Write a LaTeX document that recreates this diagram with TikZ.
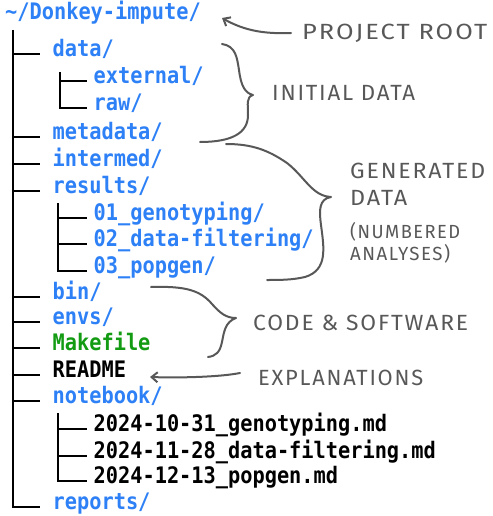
\documentclass[tikz,border=0pt]{standalone}
\usepackage{fontspec}
\usepackage{graphicx}
\usetikzlibrary{arrows.meta}
\newfontfamily\treefont{DejaVu Sans Mono}
\newfontfamily\handfont[LetterSpace=8]{Fira Sans}
\newcommand\tx[1]{\scalebox{1}[1.12]{#1}}
\newcommand\fitw[2]{\resizebox{#1}{\height}{#2}}
\definecolor{dirblue}{RGB}{45,128,245}
\definecolor{filegreen}{RGB}{20,155,20}
\definecolor{notegray}{RGB}{88,88,88}
\begin{document}
\begin{tikzpicture}[x=1pt,y=-1pt,
  entry/.style={anchor=mid west,inner sep=0pt,font=\treefont\bfseries\fontsize{20.3}{24}\selectfont},
  dir/.style={entry,text=dirblue},
  file/.style={entry,text=black},
  mk/.style={entry,text=filegreen},
  tree/.style={line width=2.5pt,draw=black,line cap=butt,line join=miter},
  note/.style={anchor=base west,inner sep=0pt,text=notegray,font=\handfont\fontsize{22}{24}\selectfont},
  smallnote/.style={note,font=\handfont\fontsize{19}{22}\selectfont},
  hand/.style={draw=notegray,line width=2pt,line cap=round,line join=round},
  handarrow/.style={hand,-{Straight Barb[length=6pt,width=10pt]}}
]
\useasboundingbox (0,0) rectangle (492,516);

% tree entries
\node[dir] (root) at (5,17.5) {\tx{\textasciitilde/Donkey-impute/}};
\node[dir] (data) at (52.5,54) {\tx{data/}};
\node[dir] (external) at (93.5,81) {\tx{external/}};
\node[dir] (raw) at (93.5,108) {\tx{raw/}};
\node[dir] (metadata) at (52.5,137) {\tx{metadata/}};
\node[dir] (intermed) at (52.5,164) {\tx{intermed/}};
\node[dir] (results) at (52.5,191) {\tx{results/}};
\node[dir] (r1) at (93.5,218) {\tx{01\_genotyping/}};
\node[dir] (r2) at (93.5,244) {\tx{02\_data-filtering/}};
\node[dir] (r3) at (93.5,271) {\tx{03\_popgen/}};
\node[dir] (bin) at (52.5,297) {\tx{bin/}};
\node[dir] (envs) at (52.5,322) {\tx{envs/}};
\node[mk] (makefile) at (52.5,348) {\tx{Makefile}};
\node[file] (readme) at (52.5,375) {\tx{README}};
\node[dir] (notebook) at (52.5,401) {\tx{notebook/}};
\node[file] (n1) at (93.5,429) {\tx{2024-10-31\_genotyping.md}};
\node[file] (n2) at (93.5,456) {\tx{2024-11-28\_data-filtering.md}};
\node[file] (n3) at (93.5,481) {\tx{2024-12-13\_popgen.md}};
\node[dir] (reports) at (52.5,507) {\tx{reports/}};

% tree lines
\coordinate (trunk) at (13,30);
\coordinate (subA) at (60,72);
\coordinate (subB) at (58,203);
\coordinate (subC) at (58,413);
\draw[tree] (trunk) |- ([xshift=-12.5pt]reports.mid west);
\foreach \n in {data,metadata,intermed,results,bin,envs,makefile,readme,notebook}
  \draw[tree] (trunk |- \n.mid west) -- ([xshift=-12.5pt]\n.mid west);
\draw[tree] (subA) |- ([xshift=-7pt]raw.mid west);
\draw[tree] (subA |- external.mid west) -- ([xshift=-7pt]external.mid west);
\draw[tree] (subB) |- ([xshift=-7pt]r3.mid west);
\foreach \n in {r1,r2}
  \draw[tree] (subB |- \n.mid west) -- ([xshift=-7pt]\n.mid west);
\draw[tree] (subC) |- ([xshift=-7pt]n3.mid west);
\foreach \n in {n1,n2}
  \draw[tree] (subC |- \n.mid west) -- ([xshift=-7pt]\n.mid west);

% annotations
\node[note] (lroot) at (302,40) {\fitw{185pt}{PROJECT ROOT}};
\node[note] (linit) at (272,100) {\fitw{143pt}{INITIAL DATA}};
\node[note] (lgen1) at (350,178) {\fitw{135pt}{GENERATED}};
\node[note] (lgen2) at (350,205) {\fitw{57pt}{DATA}};
\node[smallnote] (lgen3) at (350,238) {\fitw{110pt}{(NUMBERED}};
\node[smallnote] (lgen4) at (350,260) {\fitw{100pt}{ANALYSES)}};
\node[note] (lcode) at (253,330) {\fitw{215pt}{CODE \& SOFTWARE}};
\node[note] (lexpl) at (258,385) {\fitw{165pt}{EXPLANATIONS}};

% arrows
\coordinate (rootTail) at (291,33);
\coordinate (rootTip) at (222,18);
\draw[handarrow] (rootTail) .. controls (265,34) and (245,31) .. (rootTip);
\coordinate (readTail) at (240,373);
\coordinate (readTip) at (150,377);
\draw[handarrow] (readTail) .. controls (220,377) and (180,378) .. (readTip);

% braces
\draw[hand] (222,44) .. controls (236,46) and (237,58) .. (239,70)
  .. controls (241,86) and (245,93) .. (253,95)
  .. controls (246,97) and (248,104) .. (248,115)
  .. controls (248,133) and (232,142) .. (200,142);
\draw[hand] (226,144) .. controls (252,144) and (268,150) .. (287,163)
  .. controls (305,177) and (312,196) .. (331,197)
  .. controls (319,199) and (319,210) .. (321,225)
  .. controls (324,248) and (328,270) .. (305,277)
  .. controls (292,280) and (280,280) .. (267,280);
\draw[hand] (151,287) .. controls (185,286) and (200,290) .. (212,304)
  .. controls (220,313) and (226,318) .. (236,318)
  .. controls (225,322) and (224,332) .. (222,342)
  .. controls (220,352) and (216,356) .. (208,357);
\end{tikzpicture}
\end{document}
